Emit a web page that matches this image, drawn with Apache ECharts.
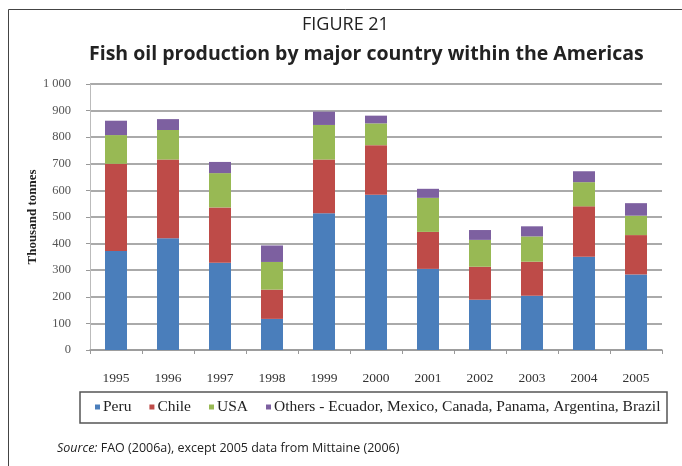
<!DOCTYPE html>
<html>
<head>
<meta charset="utf-8">
<script src="https://cdn.jsdelivr.net/npm/echarts@6/dist/echarts.min.js"></script>
<style>
html,body{margin:0;padding:0;background:#fff;}
#c{width:682px;height:466px;}
</style>
</head>
<body>
<div id="c"></div>
<script>
var years = ['1995','1996','1997','1998','1999','2000','2001','2002','2003','2004','2005'];
var peru   = [372,420,328,117,514,584,305,189,204,351,284];
var chile  = [328,296,208,110,202,186,139,124,128,189,148];
var usa    = [108,111,129,104,130, 82,128,101, 95, 91, 73];
var others = [ 54, 41, 42, 62, 50, 29, 34, 37, 38, 41, 47];
var seriesNames = ['Peru','Chile','USA','Others - Ecuador, Mexico, Canada, Panama, Argentina, Brazil'];
var colors = ['#4A7EBB','#BE4B48','#98B954','#7D60A0'];

var chart = echarts.init(document.getElementById('c'));
var serif = '"Liberation Serif", "DejaVu Serif", serif';
var sans = '"Open Sans", "Noto Sans", sans-serif';
var data = [peru, chile, usa, others];
var series = data.map(function(d, i){
  return {
    name: seriesNames[i], type: 'bar', stack: 'total', data: d,
    barWidth: 22, itemStyle: {color: colors[i]}
  };
});
chart.setOption({
  animation: false,
  backgroundColor: '#fff',
  color: colors,
  title: [
    {text: 'FIGURE 21', left: 297, top: 11, textStyle: {fontFamily: sans, fontWeight: 'normal', fontSize: 18, color: '#222'}},
    {text: 'Fish oil production by major country within the Americas', left: 84, top: 39, textStyle: {fontFamily: sans, fontWeight: 'bold', fontSize: 19.5, color: '#222'}}
  ],
  grid: {left: 90, right: 20, top: 84, bottom: 116},
  legend: {
    left: 95, top: 399, itemWidth: 5, itemHeight: 5, itemGap: 18,
    icon: 'rect', padding: 0,
    textStyle: {fontFamily: serif, fontSize: 15.5, color: '#222', padding: [0,0,0,-2]}
  },
  xAxis: {
    type: 'category', data: years,
    axisLine: {lineStyle: {color: '#999', width: 1.5}},
    axisTick: {show: true, length: 4, lineStyle: {color: '#999'}},
    axisLabel: {fontFamily: serif, fontSize: 13.5, color: '#333', margin: 21}
  },
  yAxis: {
    type: 'value', min: 0, max: 1000, interval: 100,
    name: 'Thousand tonnes', nameLocation: 'middle', nameGap: 51, nameRotate: 90,
    nameMoveOverlap: false,
    nameTextStyle: {fontFamily: serif, fontWeight: 'bold', fontSize: 13, color: '#222'},
    axisLine: {show: true, lineStyle: {color: '#bbb'}},
    axisTick: {show: true, length: 4, lineStyle: {color: '#999'}},
    splitLine: {lineStyle: {color: '#aaa', width: 2}},
    axisLabel: {fontFamily: serif, fontSize: 12.5, color: '#555', margin: 19,
      formatter: function(v){ return v >= 1000 ? String(v).replace(/(\d)(\d{3})$/, '$1 $2') : String(v); }}
  },
  graphic: [
    {type: 'line', shape: {x1: 8.5, y1: 9.5, x2: 682, y2: 9.5}, style: {stroke: '#444', lineWidth: 1}},
    {type: 'line', shape: {x1: 8.5, y1: 9.5, x2: 8.5, y2: 466}, style: {stroke: '#444', lineWidth: 1}},
    {type: 'rect', shape: {x: 80, y: 392, width: 587, height: 31}, style: {fill: 'none', stroke: '#555', lineWidth: 1.5}},
    {type: 'text', left: 57, top: 442, style: {
      rich: {i: {fontFamily: sans, fontStyle: 'italic', fontSize: 12.5, fill: '#222'}, n: {fontFamily: sans, fontSize: 12.5, fill: '#222'}},
      text: '{i|Source:}{n| FAO (2006a), except 2005 data from Mittaine (2006)}'
    }}
  ],
  series: series
});
</script>
</body>
</html>
